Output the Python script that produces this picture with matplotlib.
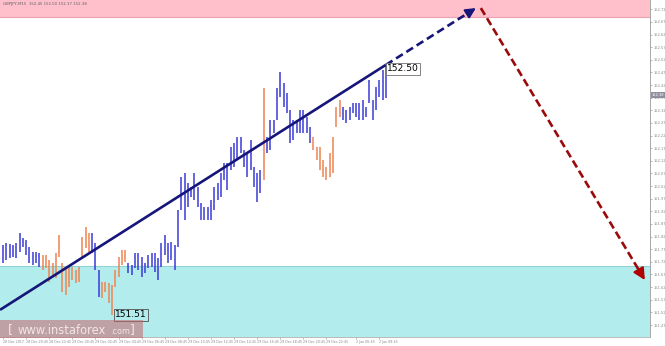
import matplotlib
matplotlib.use('Agg')
import matplotlib.pyplot as plt
import matplotlib.transforms as mtransforms
from matplotlib.patches import Rectangle

# ---------------- data ----------------
highs = [151.787, 151.795, 151.791, 151.787, 151.795, 151.834, 151.815, 151.807, 151.779, 151.759,
         151.759, 151.755,
         151.747, 151.747, 151.727, 151.716, 151.755, 151.826, 151.716, 151.696, 151.700, 151.700,
         151.688, 151.700, 151.819, 151.858, 151.834,
         151.834, 151.795, 151.688,
         151.640, 151.640, 151.636, 151.628, 151.688, 151.739, 151.767, 151.767,
         151.716, 151.708, 151.755, 151.755, 151.739, 151.716, 151.747, 151.755, 151.755, 151.735,
         151.795, 151.826, 151.795, 151.799, 151.787, 151.925, 152.056, 152.072, 152.032, 152.017,
         152.072, 152.017, 151.953, 151.937, 151.937, 151.965, 152.017, 152.032, 152.072, 152.112,
         152.112, 152.175, 152.191, 152.214, 152.214, 152.163, 152.151, 152.203, 152.096, 152.072,
         152.084,
         152.408,
         152.214, 152.282, 152.282, 152.408, 152.472, 152.428, 152.389, 152.321, 152.282, 152.282,
         152.321, 152.321, 152.294, 152.254,
         152.214, 152.175, 152.175, 152.123, 152.096, 152.151, 152.214, 152.333, 152.361,
         152.333, 152.321, 152.333, 152.349, 152.349, 152.349, 152.361, 152.333, 152.440, 152.361,
         152.412, 152.440, 152.480, 152.500]
lows = [151.716, 151.727, 151.735, 151.739, 151.735, 151.759, 151.779, 151.747, 151.716, 151.708,
        151.716, 151.700,
        151.688, 151.696, 151.640, 151.668, 151.656, 151.739, 151.601, 151.589, 151.621, 151.648,
        151.636, 151.640, 151.739, 151.775, 151.759,
        151.755, 151.688, 151.581,
        151.577, 151.601, 151.557, 151.510, 151.621, 151.660, 151.708, 151.720,
        151.676, 151.668, 151.696, 151.688, 151.660, 151.676, 151.696, 151.700, 151.680, 151.648,
        151.700, 151.747, 151.716, 151.727, 151.688, 151.779, 151.925, 151.886, 151.937, 151.977,
        151.965, 151.937, 151.886, 151.886, 151.886, 151.886, 151.925, 151.965, 151.977, 152.044,
        152.005, 152.084, 152.096, 152.123, 152.151, 152.096, 152.056, 152.084, 152.017, 151.957,
        151.993,
        152.044,
        152.151, 152.163, 152.230, 152.282, 152.373, 152.333, 152.310, 152.191, 152.203, 152.230,
        152.230, 152.230, 152.230, 152.191,
        152.163, 152.123, 152.084, 152.056, 152.044, 152.056, 152.072, 152.254, 152.294,
        152.282, 152.270, 152.282, 152.310, 152.294, 152.282, 152.282, 152.294, 152.349, 152.282,
        152.321, 152.373, 152.361, 152.370]
bar_colors = ("bbbbbbbbbbbb"
              "ooooooooooooooo"
              "bbb"
              "oooooooo"
              "bbbbbbbbbbbbbbbbbbbbbbbbbbbbbbbbbbbbbbbbb"
              "o"
              "bbbbbbbbbbbbbb"
              "ooooooooo"
              "bbbbbbbbbbbbbb")

trend_x = [-0.9, 116]
trend_y = [151.53, 152.50]
trend_ext_x = [116, 143.3]
trend_ext_y = [152.50, 152.725]
forecast_x = [144.8, 194.5]
forecast_y = [152.725, 151.648]

pink_zone = [152.69, 152.80]
cyan_zone = [151.40, 151.704]

high_label = (116.4, 152.485, "152.50")
low_label = (34.0, 151.51, "151.51")
current_price = 152.38

price_ticks = [151.47, 151.52, 151.57, 151.62, 151.67, 151.72, 151.77, 151.82, 151.87,
               151.92, 151.97, 152.02, 152.07, 152.12, 152.17, 152.22, 152.27, 152.32,
               152.37, 152.42, 152.47, 152.52, 152.57, 152.62, 152.67, 152.72]
time_tick_bars = [0, 7, 14, 21, 28, 35, 42, 49, 56, 63, 70, 77, 84, 91, 98, 107, 114]
time_labels = ["28 Dec 2017", "28 Dec 20:45", "28 Dec 22:45", "29 Dec 00:45", "29 Dec 02:45",
               "29 Dec 04:45", "29 Dec 06:45", "29 Dec 08:45", "29 Dec 10:45", "29 Dec 12:45",
               "29 Dec 14:45", "29 Dec 16:45", "29 Dec 18:45", "29 Dec 20:45", "29 Dec 22:45",
               "2 Jan 06:45", "2 Jan 08:45"]
title_text = "GBPJPY,M15  152.45 152.50 152.37 152.38"

# ---------------- drawing ----------------
W, H = 665, 346
fig = plt.figure(figsize=(W / 100, H / 100), dpi=100)
fig.patch.set_facecolor('white')
ax = fig.add_axes([0, 9 / H, 650 / W, 337 / H])
ax.set_facecolor('white')

ax.set_xlim(-0.91, 196.06)
ax.set_ylim(151.4225, 152.757)

ax.axhspan(pink_zone[0], pink_zone[1], facecolor='#ffc0cb', edgecolor='none', zorder=0)
ax.axhline(pink_zone[0], color='#eba3b2', lw=0.8, zorder=0.5)
ax.axhspan(cyan_zone[0], cyan_zone[1], facecolor='#b2ecec', edgecolor='none', zorder=0)
ax.axhline(cyan_zone[1], color='#8fd3d6', lw=0.8, zorder=0.5)

cmap = {'b': '#3a3ad6', 'o': '#ee8452'}
xs = list(range(len(highs)))
ax.vlines(xs, lows, highs, colors=[cmap[c] for c in bar_colors], lw=1.1, zorder=2)

navy = '#16167a'
ax.plot(trend_x, trend_y, color=navy, lw=1.9, solid_capstyle='butt', zorder=3)
ax.plot([trend_ext_x[0], trend_ext_x[1] - 1.2],
        [trend_ext_y[0], trend_ext_y[1] - 0.01], color=navy, lw=1.9,
        dashes=(3, 1.6), zorder=3)
ax.annotate('', xy=(trend_ext_x[1], trend_ext_y[1]),
            xytext=(trend_ext_x[1] - 2.0, trend_ext_y[1] - 0.0165),
            arrowprops=dict(arrowstyle='-|>,head_length=0.6,head_width=0.3', color=navy,
                            lw=1.5, shrinkA=0, shrinkB=0), zorder=4)

red = '#9a0a0a'
ax.plot([forecast_x[0], forecast_x[1] - 1.0],
        [forecast_y[0], forecast_y[1] + 0.022], color=red, lw=1.9,
        dashes=(3, 1.5), zorder=3)
ax.annotate('', xy=(forecast_x[1], forecast_y[1]),
            xytext=(forecast_x[1] - 1.6, forecast_y[1] + 0.035),
            arrowprops=dict(arrowstyle='-|>,head_length=0.7,head_width=0.35', color='#b00000',
                            lw=1.5, shrinkA=0, shrinkB=0), zorder=4)

ax.text(high_label[0], high_label[1], high_label[2], fontsize=6.6, color='black',
        ha='left', va='center', zorder=5,
        bbox=dict(boxstyle='square,pad=0.15', fc='white', ec='#707070', lw=0.6))
ax.text(low_label[0], low_label[1], low_label[2], fontsize=6.6, color='black',
        ha='left', va='center', zorder=5,
        bbox=dict(boxstyle='square,pad=0.15', fc='none', ec='#505050', lw=0.6))

# axes styling
for s in ['top', 'left']:
    ax.spines[s].set_visible(False)
ax.spines['right'].set_color('#9a9a9a')
ax.spines['right'].set_linewidth(0.6)
ax.spines['bottom'].set_color('#b0b0b0')
ax.spines['bottom'].set_linewidth(0.6)
ax.yaxis.tick_right()
ax.set_yticks(price_ticks)
ax.set_yticklabels([f"{v:.2f}" for v in price_ticks])
ax.tick_params(axis='y', labelsize=2.6, colors='#888888', length=1.5, width=0.4, pad=0.8)
ax.set_xticks(time_tick_bars)
ax.set_xticklabels(time_labels, ha='left')
ax.tick_params(axis='x', labelsize=2.3, colors='#888888', length=1.5, width=0.4, pad=0.6)

# current price marker
trans = mtransforms.blended_transform_factory(ax.transAxes, ax.transData)
ax.text(1.003, current_price, f"{current_price:.2f}", transform=trans, fontsize=2.6,
        color='white', ha='left', va='center', clip_on=False, zorder=6,
        bbox=dict(boxstyle='square,pad=0.25', fc='#8e8e9e', ec='none'))

fig.text(3 / W, 1 - 2 / H, title_text, fontsize=2.8, color='#606060', ha='left', va='top')

# watermark
fig.patches.append(Rectangle((0, 1 - 338 / H), 143 / W, 18 / H, transform=fig.transFigure,
                             facecolor='#c8646a', alpha=0.55, edgecolor='none', zorder=10))
fig.text(8 / W, 1 - 330 / H, "[", fontsize=9, color='#f4e6e6', ha='left', va='center', zorder=11)
fig.text(18 / W, 1 - 330 / H, "www.instaforex", fontsize=8.3, color='#f4e6e6', ha='left',
         va='center', zorder=11)
fig.text(110 / W, 1 - 331 / H, ".com", fontsize=5.8, color='#f4e6e6', ha='left',
         va='center', zorder=11)
fig.text(130 / W, 1 - 330 / H, "]", fontsize=9, color='#f4e6e6', ha='left', va='center', zorder=11)

fig.savefig('out.png', dpi=100, facecolor='white')
